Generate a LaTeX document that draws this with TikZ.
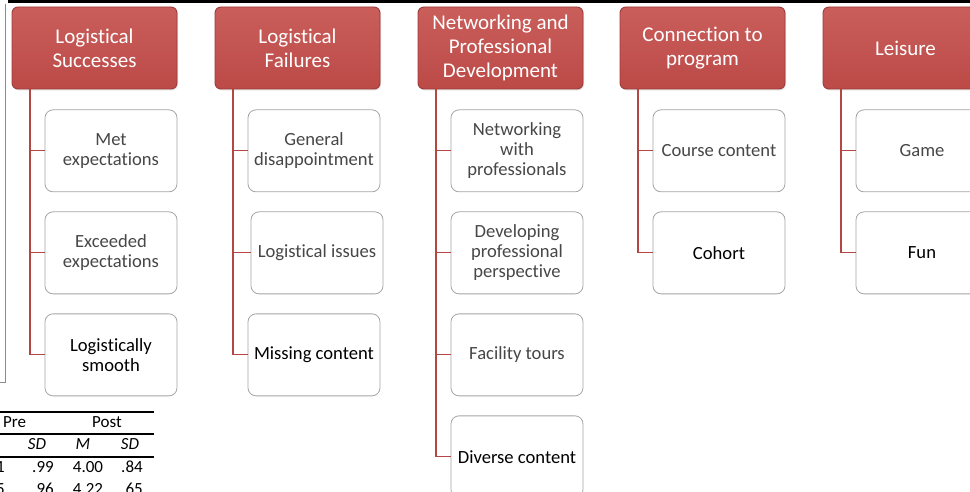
\documentclass[tikz,border=0pt]{standalone}
\usepackage{fontspec}
\setmainfont{Carlito}[Ligatures=NoCommon]
\usetikzlibrary{positioning, shadows}

\definecolor{hdrtop}{RGB}{201,94,91}
\definecolor{hdrbot}{RGB}{188,74,71}
\definecolor{hdrline}{RGB}{158,58,56}
\definecolor{linkred}{RGB}{180,70,68}
\definecolor{boxline}{RGB}{165,165,165}

\tikzset{
  theme/.style={draw=hdrline, line width=0.9pt, rounded corners=6pt,
    top color=hdrtop, bottom color=hdrbot, text=white,
    minimum width=165pt, minimum height=82pt, align=center,
    font=\fontsize{21}{24}\selectfont,
    drop shadow={shadow xshift=1pt, shadow yshift=-1.5pt, opacity=0.25}},
  code/.style={draw=boxline, line width=0.8pt, rounded corners=8pt, fill=white,
    text=black!72, minimum width=132pt, minimum height=82pt, align=center,
    font=\fontsize{18.6}{20}\selectfont},
  codeb/.style={code, text=black},
  link/.style={draw=linkred, line width=1.1pt},
  cell/.style={inner sep=0pt, anchor=base, font=\fontsize{17}{20}\selectfont},
}

\begin{document}
\begin{tikzpicture}[x=1pt, y=-1pt, node distance=19.2pt]
  \useasboundingbox (0,0) rectangle (970,492);
  \clip (0,0) rectangle (970,492);

  % page rules behind the chart
  \draw[line width=3.5pt] (8,1.5) -- (970,1.5);
  \draw[black!45, line width=0.8pt] (0,382) -- (5,382) -- (5,4);

  % themes
  \node[theme] (ls) at (94.5,48) {Logistical\\Successes};
  \node[theme] (lf) at (297.5,48) {Logistical\\Failures};
  \node[theme] (np) at (500.5,48) {Networking and\\Professional\\Development};
  \node[theme] (cp) at (702.5,48) {Connection to\\program};
  \node[theme] (le) at (905.5,48) {Leisure};

  % codes under each theme
  \node[code, below=20pt of ls, xshift=16.5pt] (ls1) {Met\\expectations};
  \node[code, below=of ls1] (ls2) {Exceeded\\expectations};
  \node[codeb, below=of ls2] (ls3) {Logistically\\smooth};

  \node[code, below=20pt of lf, xshift=16.5pt] (lf1) {General\\disappointment};
  \node[code, below=of lf1, xshift=3pt] (lf2) {Logistical issues};
  \node[codeb, below=of lf2, xshift=-3pt] (lf3) {Missing content};

  \node[code, below=20pt of np, xshift=16.5pt] (np1) {Networking\\with\\professionals};
  \node[code, below=of np1] (np2) {Developing\\professional\\perspective};
  \node[code, below=of np2] (np3) {Facility tours};
  \node[codeb, below=of np3] (np4) {Diverse content};

  \node[code, below=20pt of cp, xshift=16.5pt] (cp1) {Course content};
  \node[codeb, below=of cp1] (cp2) {Cohort};

  \node[code, below=20pt of le, xshift=16.5pt] (le1) {Game};
  \node[codeb, below=of le1] (le2) {Fun};

  % connectors
  \foreach \t/\c in {ls/ls1, ls/ls2, ls/ls3, lf/lf1, lf/lf2, lf/lf3,
                     np/np1, np/np2, np/np3, np/np4, cp/cp1, cp/cp2,
                     le/le1, le/le2}
    \draw[link] ([xshift=-64.5pt]\t.south) |- (\c.west);

  % descriptive table peeking in below
  \draw[line width=1.6pt] (0,412) -- (154,412);
  \draw[line width=1.1pt] (0,434) -- (154,434);
  \draw[line width=1.1pt] (0,457) -- (154,457);
  \node[cell, anchor=base west] (pre) at (3,427) {Pre};
  \node[cell] (post) at (107,427) {Post};
  \node[cell] (sd1) at (37,449) {\itshape SD};
  \node[cell] (m2) at (83,449) {\itshape M};
  \node[cell] (sd2) at (130,449) {\itshape SD};
  \node[cell, anchor=base east] (r1a) at (5,472) {1};
  \node[cell] (r1b) at (43,472) {.99};
  \node[cell] (r1c) at (88,472) {4.00};
  \node[cell] (r1d) at (132,472) {.84};
  \node[cell, anchor=base east] (r2a) at (5,494) {5};
  \node[cell] (r2b) at (43,494) {.96};
  \node[cell] (r2c) at (88,494) {4.22};
  \node[cell] (r2d) at (132,494) {.65};
\end{tikzpicture}
\end{document}
